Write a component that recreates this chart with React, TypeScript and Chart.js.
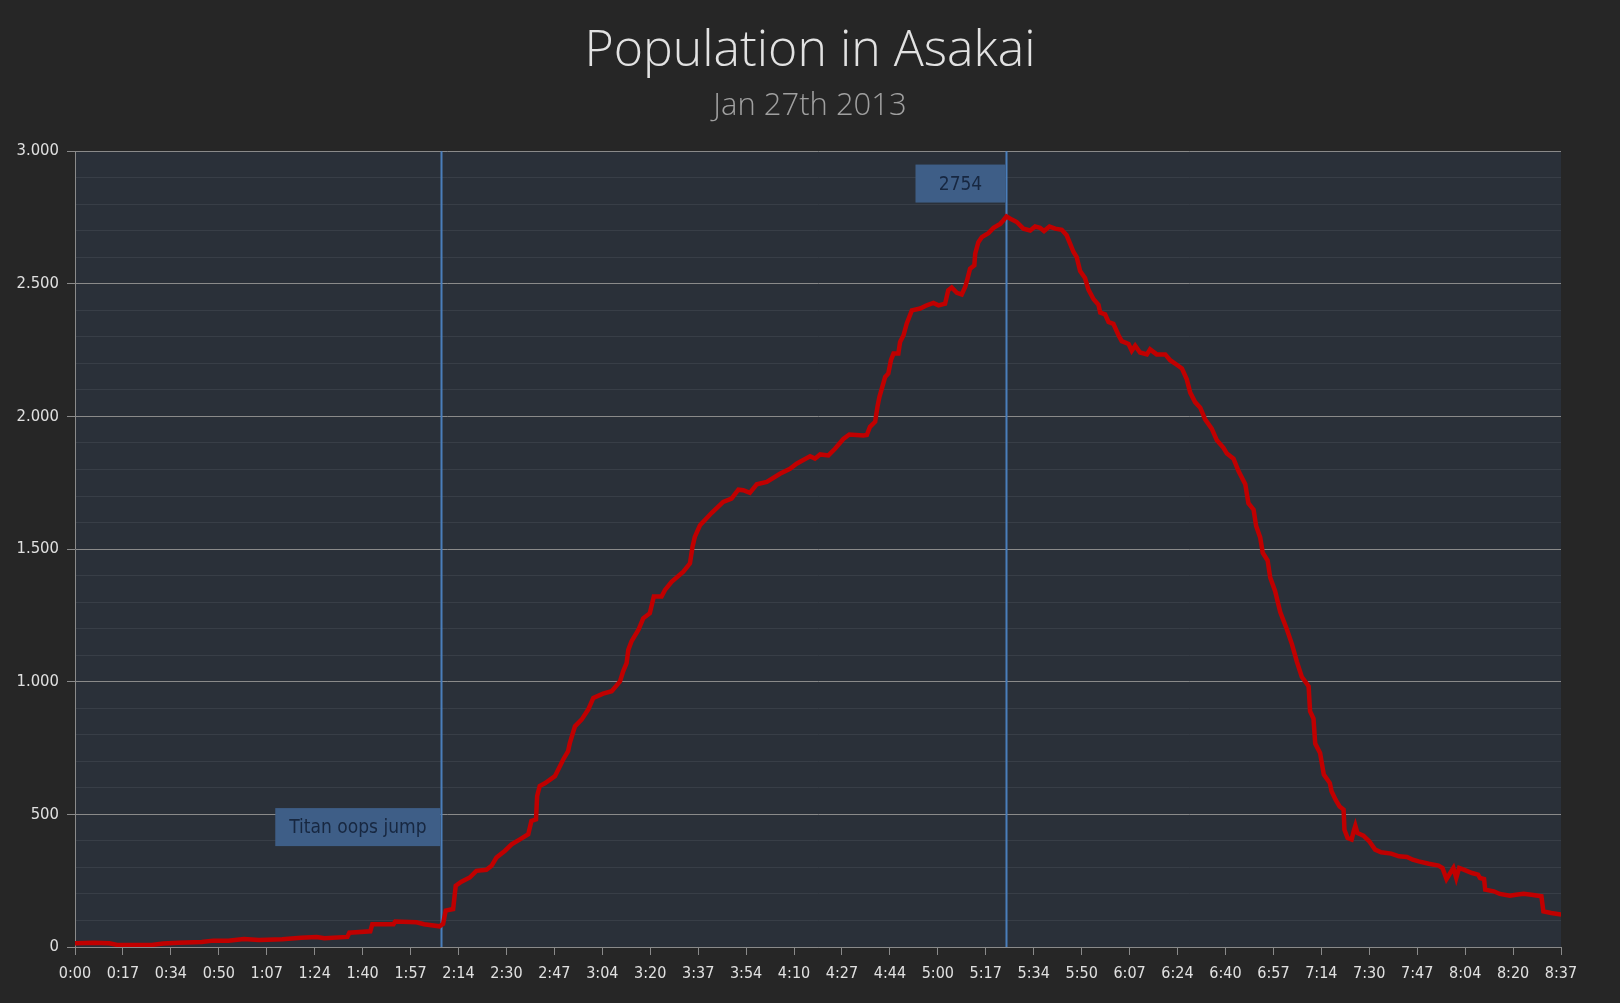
import { useEffect, useRef } from "react";
import { Chart, registerables } from "chart.js";
import type { Plugin } from "chart.js";

Chart.register(...registerables);

const TITLE = "Population in Asakai";
const SUBTITLE = "Jan 27th 2013";

// minutes since 0:00
const sampleMinutes = [
  0, 6.7, 12, 14.7, 26.8, 30.8, 36.1, 44.2, 48.2, 53.5,
  58.9, 64.2, 72.3, 78.9, 84.3, 87, 95, 95.7, 103, 103.7,
  111.1, 111.7, 119.1, 121.8, 127.1, 128.4, 129.3, 131.9, 132.8, 134.8,
  137.7, 140, 143.5, 145.3, 147, 149.9, 152.3, 155.2, 158.1, 159.2,
  160.8, 161.2, 162.1, 163.9, 167.4, 170.3, 172, 172.6, 174.4, 176.7,
  179, 180.8, 184.2, 187.2, 190.1, 191.2, 192.4, 193, 194.1, 196.5,
  198.2, 200.5, 201.9, 204.6, 205.8, 208.1, 212.2, 214.5, 215.4, 216.2,
  218, 222.1, 226.1, 229, 231.4, 233.1, 235.4, 237.8, 241.3, 245.9,
  249.4, 251.7, 256.4, 258.1, 259.9, 262.8, 265.1, 268, 270.1, 275,
  276.2, 277.3, 279.1, 279.9, 280.6, 282.6, 283.7, 284.6, 285.5, 287.2,
  287.8, 289, 290.1, 291.9, 294.8, 297.1, 299.4, 301.2, 303.5, 304.6,
  305.8, 307.6, 309.3, 310.5, 311.3, 312.2, 313.7, 314, 315.1, 316.3,
  318.6, 320.4, 322.7, 323.8, 324.9, 326.8, 328.5, 330.8, 333.2, 334.9,
  336.6, 338, 339.9, 341.9, 344.2, 345.9, 348.3, 349.4, 350.6, 352.3,
  353.5, 355.3, 357, 357.6, 359.3, 360.5, 362.2, 364, 365.1, 367.5,
  368.6, 369.8, 371.5, 373.9, 375, 377.3, 380.3, 382, 384.3, 386.1,
  387.8, 389, 390.7, 392.5, 394.2, 396.5, 398.3, 400.6, 401.8, 404.1,
  405.8, 408.2, 409.3, 411.1, 412, 413.4, 414.3, 416, 416.9, 418.6,
  420.4, 422.7, 424.5, 426.2, 427.9, 430.3, 430.8, 432, 432.6, 434.3,
  435.6, 437.7, 438.3, 439.7, 441.1, 442.5, 442.8, 443.9, 445.3, 446,
  446.6, 447.3, 449.4, 451.5, 453.5, 455.6, 459.1, 461.8, 464.6, 466.6,
  468.7, 472.2, 475.6, 477, 478.4, 479.7, 480.8, 481.8, 482.8, 484.6,
  487.3, 489.4, 490.1, 491.5, 491.9, 494.9, 497, 500.5, 502.6, 505.3,
  508, 511.5, 512.2, 514.9, 518.4,
];

const population = [
  14, 16, 14, 8, 8, 13, 16, 19, 24, 24,
  30, 26, 29, 35, 38, 33, 38, 54, 59, 86,
  86, 96, 93, 86, 78, 87, 137, 143, 231, 246,
  262, 287, 291, 306, 337, 362, 387, 406, 425, 475,
  481, 569, 607, 617, 644, 707, 738, 769, 832, 857,
  895, 939, 955, 964, 1001, 1039, 1070, 1120, 1152, 1195,
  1239, 1258, 1321, 1321, 1346, 1377, 1415, 1446, 1509, 1546,
  1590, 1637, 1678, 1690, 1724, 1722, 1712, 1744, 1753, 1784,
  1803, 1822, 1850, 1841, 1857, 1853, 1878, 1915, 1932, 1928,
  1930, 1961, 1980, 2036, 2074, 2149, 2162, 2212, 2237, 2237,
  2281, 2306, 2350, 2400, 2407, 2419, 2428, 2419, 2425, 2476,
  2486, 2466, 2460, 2488, 2519, 2557, 2570, 2614, 2657, 2676,
  2691, 2711, 2726, 2739, 2754, 2742, 2733, 2708, 2701, 2716,
  2711, 2699, 2716, 2708, 2704, 2683, 2620, 2601, 2548, 2522,
  2478, 2442, 2421, 2392, 2385, 2356, 2349, 2306, 2284, 2273,
  2248, 2267, 2241, 2234, 2253, 2234, 2234, 2212, 2195, 2181,
  2140, 2090, 2054, 2033, 1989, 1954, 1910, 1882, 1860, 1841,
  1795, 1745, 1673, 1649, 1587, 1544, 1486, 1457, 1393, 1342,
  1263, 1198, 1141, 1076, 1019, 983, 889, 861, 767, 731,
  650, 618, 587, 555, 530, 518, 442, 411, 405, 436,
  457, 430, 420, 398, 367, 357, 352, 342, 339, 329,
  323, 314, 307, 298, 256, 279, 298, 260, 298, 291,
  279, 273, 260, 256, 216, 210, 200, 193, 197, 201,
  197, 191, 134, 128, 122,
];

// ticks every 1000 s
const xTickLabels = [
  "0:00", "0:17", "0:34", "0:50", "1:07", "1:24", "1:40", "1:57",
  "2:14", "2:30", "2:47", "3:04", "3:20", "3:37", "3:54", "4:10",
  "4:27", "4:44", "5:00", "5:17", "5:34", "5:50", "6:07", "6:24",
  "6:40", "6:57", "7:14", "7:30", "7:47", "8:04", "8:20", "8:37",
];
const X_MAX_SECONDS = 31100;

const markerMinutes = [127.6, 324.8];
const markerLabels = ["Titan oops jump", "2754"];
const markerLevels = [452, 2878];

const FONT = "'DejaVu Sans Condensed', 'DejaVu Sans', sans-serif";

const formatThousands = (v: number) =>
  String(v).replace(/\B(?=(\d{3})+(?!\d))/g, ".");

const plotBackground: Plugin<"line"> = {
  id: "plotBackground",
  beforeDraw(chart) {
    const { ctx, chartArea: a } = chart;
    ctx.save();
    ctx.fillStyle = "#2a3039";
    ctx.fillRect(a.left, a.top, a.right - a.left, a.bottom - a.top);
    ctx.restore();
  },
};

// vertical plot lines with a boxed label on their left
const plotLines: Plugin<"line"> = {
  id: "plotLines",
  beforeDatasetsDraw(chart) {
    const { ctx, chartArea: a, scales } = chart;
    ctx.save();
    markerMinutes.forEach((m, i) => {
      const x = Math.round(scales.x.getPixelForValue(m * 60)) + 0.5;
      ctx.strokeStyle = "#4a7ebb";
      ctx.lineWidth = 2;
      ctx.beginPath();
      ctx.moveTo(x, a.top);
      ctx.lineTo(x, a.bottom);
      ctx.stroke();

      ctx.font = `19px ${FONT}`;
      const tw = ctx.measureText(markerLabels[i]).width;
      const w = Math.max(tw + 28, 90);
      const h = 38;
      const cy = scales.y.getPixelForValue(markerLevels[i]);
      ctx.fillStyle = "#3e5e87";
      ctx.fillRect(x - 1 - w, cy - h / 2, w, h);
      ctx.fillStyle = "#172740";
      ctx.textAlign = "center";
      ctx.textBaseline = "middle";
      ctx.fillText(markerLabels[i], x - 1 - w / 2, cy + 1);
    });
    ctx.restore();
  },
};

function PopulationChart() {
  const canvasRef = useRef<HTMLCanvasElement>(null);

  useEffect(() => {
    const canvas = canvasRef.current;
    if (!canvas) return;

    const chart = new Chart(canvas, {
      type: "line",
      data: {
        datasets: [
          {
            label: "Population",
            data: sampleMinutes.map((m, i) => ({ x: m * 60, y: population[i] })),
            borderColor: "#c00000",
            borderWidth: 4.5,
            pointRadius: 0,
            tension: 0,
          },
        ],
      },
      options: {
        responsive: true,
        maintainAspectRatio: false,
        animation: false,
        layout: { padding: 0 },
        scales: {
          x: {
            type: "linear",
            min: 0,
            max: X_MAX_SECONDS,
            afterFit(scale) {
              scale.height = 56;
            },
            border: { color: "#8a8a8a", width: 1 },
            grid: {
              drawOnChartArea: false,
              drawTicks: true,
              tickLength: 8,
              color: "#8a8a8a",
            },
            ticks: {
              stepSize: 1000,
              includeBounds: false,
              autoSkip: false,
              maxRotation: 0,
              padding: 9,
              color: "#e0e0e0",
              font: { family: FONT, size: 16 },
              callback: (_v, i) => xTickLabels[i] ?? "",
            },
          },
          y: {
            position: "left",
            min: 0,
            max: 3000,
            afterFit(scale) {
              scale.width = 75;
            },
            border: { color: "#8a8a8a", width: 1 },
            grid: {
              color: (c) => (c.tick && c.tick.value % 500 === 0 ? "#8a8a8a" : "#383e47"),
              tickColor: (c) => (c.tick && c.tick.value % 500 === 0 ? "#8a8a8a" : "rgba(0,0,0,0)"),
              tickLength: 8,
              lineWidth: 1,
            },
            ticks: {
              stepSize: 100,
              autoSkip: false,
              padding: 8,
              color: "#e0e0e0",
              font: { family: FONT, size: 16.5 },
              callback: (v) => (Number(v) % 500 === 0 ? formatThousands(Number(v)) : ""),
            },
          },
          // empty right margin so the title centres on the whole canvas
          spacer: {
            type: "linear",
            position: "right",
            min: 0,
            max: 1,
            afterFit(scale) {
              scale.width = 59;
            },
            border: { display: false },
            grid: { display: false },
            ticks: { display: false },
          },
        },
        plugins: {
          legend: { display: false },
          tooltip: { enabled: false },
          title: {
            display: true,
            text: TITLE,
            color: "#e2e2e2",
            font: { family: "'Open Sans', sans-serif", size: 50, weight: 300 },
            padding: { top: 22, bottom: 0 },
          },
          subtitle: {
            display: true,
            text: SUBTITLE,
            color: "#a0a0a0",
            font: { family: "'Open Sans', sans-serif", size: 31, weight: 300 },
            padding: { top: 6, bottom: 26 },
          },
        },
      },
      plugins: [plotBackground, plotLines],
    });

    return () => chart.destroy();
  }, []);

  return (
    <div
      style={{
        position: "fixed",
        left: 0,
        top: 0,
        width: 1620,
        height: 1003,
        background: "#262626",
      }}
    >
      <canvas ref={canvasRef} />
    </div>
  );
}

export default function App() {
  return <PopulationChart />;
}
